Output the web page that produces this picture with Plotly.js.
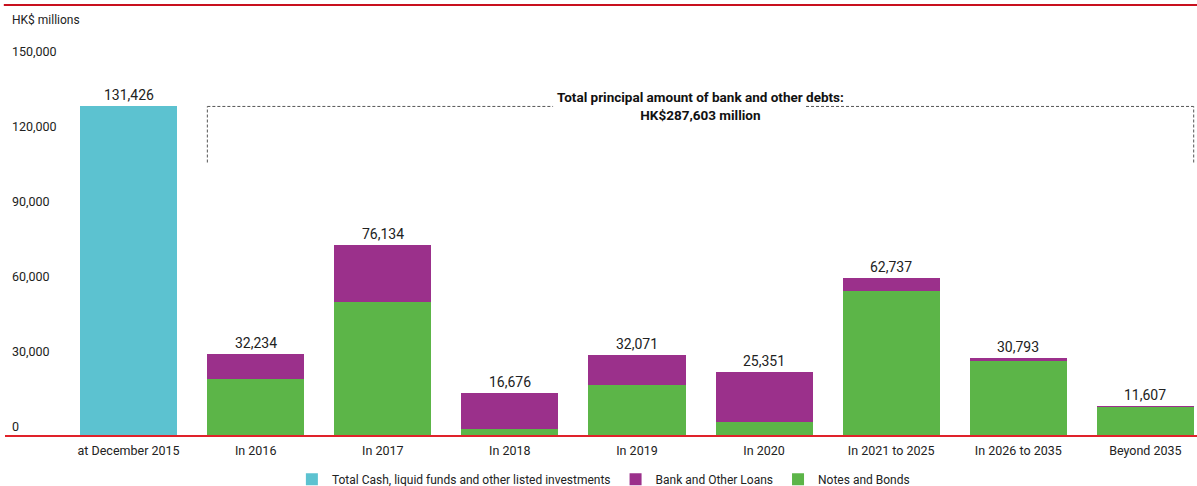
<!DOCTYPE html>
<html>
<head>
<meta charset="utf-8">
<script src="https://cdn.plot.ly/plotly-3.0.1.min.js"></script>
<style>html,body{margin:0;padding:0;background:#fff;}#chart{width:1197px;height:486px;}</style>
</head>
<body>
<div id="chart"></div>
<script>
const categories = ['at December 2015','In 2016','In 2017','In 2018','In 2019','In 2020','In 2021 to 2025','In 2026 to 2035','Beyond 2035'];
const cashFunds = [131426, null, null, null, null, null, null, null, null];
const notesBonds = [null, 22300, 53200, 2300, 19900, 5200, 57500, 29500, 11357];
const totals = [131426, 32234, 76134, 16676, 32071, 25351, 62737, 30793, 11607];
const bankLoans = totals.map((t, i) => i === 0 ? null : t - notesBonds[i]);
const yTicks = [0, 30000, 60000, 90000, 120000, 150000];
const seriesNames = ['Total Cash, liquid funds and other listed investments', 'Bank and Other Loans', 'Notes and Bonds'];
const debtTotalText = ['Total principal amount of bank and other debts:', 'HK$287,603 million'];
const unitLabel = 'HK$ millions';

const FAM = 'Roboto, "Liberation Sans", sans-serif';
const F = (size, color) => ({family:FAM, size:size, color:color || '#222'});
const fmt = v => v.toLocaleString('en-US');

const traces = [
  {type:'bar', name:seriesNames[0], x:categories, y:cashFunds, marker:{color:'#5cc2d0'}, legendrank:1, hoverinfo:'none'},
  {type:'bar', name:seriesNames[2], x:categories, y:notesBonds, marker:{color:'#5cb548'}, legendrank:3, hoverinfo:'none'},
  {type:'bar', name:seriesNames[1], x:categories, y:bankLoans, marker:{color:'#9b308b'}, legendrank:2, hoverinfo:'none'}
];

const annotations = totals.map((t, i) => ({
  x: categories[i], y: t, xref:'x', yref:'y', text: fmt(t), showarrow:false,
  yanchor:'bottom', yshift:1, font:F(14)
}));
annotations.push({
  x: 4.5, y: totals[0], xref:'x', yref:'y', showarrow:false, yanchor:'middle',
  text: '<b>' + debtTotalText[0] + '</b><br><b>' + debtTotalText[1] + '</b>',
  font:F(13.5, '#111')
});
annotations.push({
  x: 0, y: 1, xref:'paper', yref:'paper', xanchor:'left', yanchor:'middle', showarrow:false,
  xshift:5, yshift:-10, text: unitLabel, font:F(12)
});

const dash = {color:'#555', width:1, dash:'3px,2px'};
const shapes = [
  {type:'line', xref:'paper', yref:'paper', x0:-0.001, x1:1.01, y0:1.0118, y1:1.0118, line:{color:'#c8101e', width:2}},
  {type:'line', xref:'x', yref:'y', x0:0.62, x1:0.62, y0:109000, y1:totals[0], line:dash},
  {type:'line', xref:'x', yref:'y', x0:0.62, x1:3.34, y0:totals[0], y1:totals[0], line:dash},
  {type:'line', xref:'x', yref:'y', x0:5.33, x1:8.38, y0:totals[0], y1:totals[0], line:dash},
  {type:'line', xref:'x', yref:'y', x0:8.38, x1:8.38, y0:109000, y1:totals[0], line:dash}
];

const layout = {
  width:1197, height:486,
  margin:{l:5, r:0, t:10, b:51, autoexpand:false},
  paper_bgcolor:'#fff', plot_bgcolor:'#fff',
  barmode:'stack', bargap:0.236,
  font:F(12),
  xaxis:{type:'category', range:[-0.972, 8.406], showline:true, linecolor:'#e0222a', linewidth:2,
         ticks:'', showgrid:false, zeroline:false, tickfont:F(12.5), ticklabelstandoff:3, fixedrange:true},
  yaxis:{range:[0,170000], tickvals:yTicks, ticktext:yTicks.map(fmt), showgrid:false, zeroline:false, showline:false,
         ticks:'', ticklabelposition:'inside', ticklabelshift:-8, ticklabelstandoff:4,
         tickfont:F(12.5), fixedrange:true},
  showlegend:true,
  legend:{orientation:'h', x:0.502, xanchor:'center', y:-0.104, yanchor:'middle', traceorder:'normal',
          font:F(12)},
  annotations: annotations,
  shapes: shapes
};

Plotly.newPlot('chart', traces, layout, {displayModeBar:false, staticPlot:true});
</script>
</body>
</html>
